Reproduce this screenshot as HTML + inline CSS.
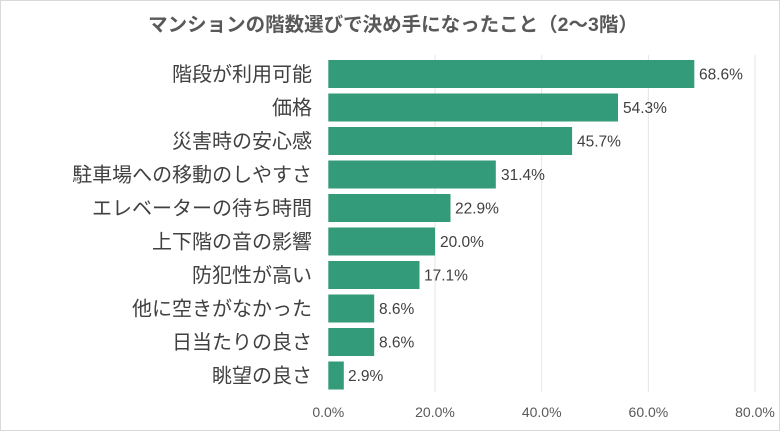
<!DOCTYPE html>
<html><head><meta charset="utf-8"><style>
html,body{margin:0;padding:0;background:#fff}
svg{display:block}
text{font-family:"Liberation Sans","Noto Sans CJK JP",sans-serif}
</style></head><body>
<svg width="780" height="431" viewBox="0 0 780 431">
<rect x="0.5" y="0.5" width="779" height="430" fill="#fff" stroke="#d9d9d9"/>
<text x="393" y="31" text-anchor="middle" font-size="19.5" font-weight="bold" fill="#595959">マンションの階数選びで決め手になったこと（2〜3階）</text>
<g stroke="#e6e6e6" stroke-width="1">
<line x1="435" y1="55" x2="435" y2="392"/>
<line x1="541.7" y1="55" x2="541.7" y2="392"/>
<line x1="648.4" y1="55" x2="648.4" y2="392"/>
<line x1="755" y1="55" x2="755" y2="392"/>
</g>
<g fill="#339a7a">
<rect x="328.3" y="60" width="366" height="28"/>
<rect x="328.3" y="93.5" width="289.7" height="28"/>
<rect x="328.3" y="127" width="243.8" height="28"/>
<rect x="328.3" y="160.5" width="167.5" height="28"/>
<rect x="328.3" y="194" width="122.2" height="28"/>
<rect x="328.3" y="227.5" width="106.7" height="28"/>
<rect x="328.3" y="261" width="91.2" height="28"/>
<rect x="328.3" y="294.5" width="45.9" height="28"/>
<rect x="328.3" y="328" width="45.9" height="28"/>
<rect x="328.3" y="361.5" width="15.5" height="28"/>
</g>
<g font-size="15.5" fill="#404040">
<text x="699" y="79.5">68.6%</text>
<text x="623" y="113">54.3%</text>
<text x="577" y="146.5">45.7%</text>
<text x="501" y="180">31.4%</text>
<text x="455" y="213.5">22.9%</text>
<text x="440" y="247">20.0%</text>
<text x="424" y="280.5">17.1%</text>
<text x="379" y="314">8.6%</text>
<text x="379" y="347.5">8.6%</text>
<text x="348" y="381">2.9%</text>
</g>
<g font-size="20" fill="#404040" text-anchor="end">
<text x="312" y="81">階段が利用可能</text>
<text x="312" y="114.5">価格</text>
<text x="312" y="148">災害時の安心感</text>
<text x="312" y="181.5">駐車場への移動のしやすさ</text>
<text x="312" y="215">エレベーターの待ち時間</text>
<text x="312" y="248.5">上下階の音の影響</text>
<text x="312" y="282">防犯性が高い</text>
<text x="312" y="315.5">他に空きがなかった</text>
<text x="312" y="349">日当たりの良さ</text>
<text x="312" y="382.5">眺望の良さ</text>
</g>
<g font-size="14" fill="#595959" text-anchor="middle">
<text x="328.3" y="417">0.0%</text>
<text x="435" y="417">20.0%</text>
<text x="541.7" y="417">40.0%</text>
<text x="648.4" y="417">60.0%</text>
<text x="755" y="417">80.0%</text>
</g>
</svg>
</body></html>
